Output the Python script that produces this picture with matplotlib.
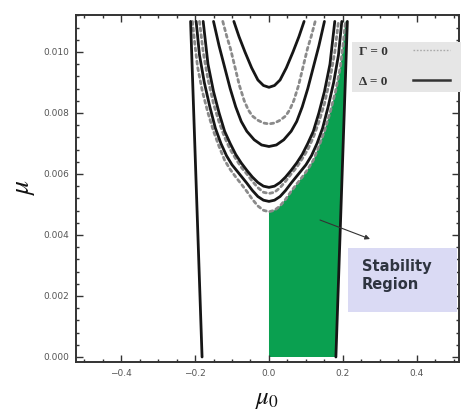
import numpy as np
import matplotlib
matplotlib.use("Agg")
import matplotlib.pyplot as plt
from matplotlib.patches import Rectangle, Polygon
from matplotlib.lines import Line2D
from matplotlib.ticker import MultipleLocator, FixedLocator, FixedFormatter

plt.rcParams['mathtext.fontset'] = 'stix'

# ---------------- data (half-curves, symmetric about mu0 = 0) ----------------
# outer straight Delta=0 boundary
line_x = [0.181, 0.212]
line_mu = [0.0, 0.011]

# Gamma = 0 curves (dashed)
d1_x = [0.0, 0.015, 0.03, 0.045, 0.06, 0.075, 0.09, 0.105, 0.12, 0.135, 0.15,
        0.165, 0.18, 0.193, 0.2, 0.207]
d1_mu = [0.00476, 0.00481, 0.00495, 0.00517, 0.00543, 0.00567, 0.0059, 0.00615,
         0.00645, 0.0069, 0.0074, 0.008, 0.0087, 0.0095, 0.0102, 0.011]

d3_x = [0.0, 0.015, 0.03, 0.045, 0.06, 0.075, 0.09, 0.105, 0.12, 0.135, 0.15,
        0.165, 0.178, 0.188]
d3_mu = [0.00536, 0.0054, 0.00555, 0.00576, 0.006, 0.00622, 0.0065, 0.0068,
         0.0072, 0.0077, 0.0083, 0.0091, 0.01, 0.011]

d6_x = [0.0, 0.015, 0.03, 0.045, 0.056, 0.067, 0.08, 0.092, 0.104, 0.114, 0.125]
d6_mu = [0.00764, 0.00767, 0.00776, 0.0079, 0.0081, 0.0084, 0.0089, 0.0095,
         0.0101, 0.0105, 0.011]

# Delta = 0 curves (solid)
s2_x = [0.0, 0.015, 0.03, 0.045, 0.06, 0.08, 0.1, 0.115, 0.13, 0.145, 0.16,
        0.175, 0.188, 0.197]
s2_mu = [0.0051, 0.00514, 0.00526, 0.00546, 0.0057, 0.006, 0.0063, 0.0066,
         0.007, 0.0075, 0.0082, 0.009, 0.0099, 0.011]

s4_x = [0.0, 0.015, 0.03, 0.045, 0.06, 0.075, 0.09, 0.105, 0.12, 0.135, 0.15,
        0.165, 0.178]
s4_mu = [0.00556, 0.0056, 0.00572, 0.0059, 0.00612, 0.00636, 0.00664, 0.007,
         0.0074, 0.008, 0.0087, 0.0096, 0.011]

s5_x = [0.0, 0.02, 0.04, 0.06, 0.075, 0.09, 0.105, 0.12, 0.135, 0.15]
s5_mu = [0.0069, 0.00695, 0.00712, 0.0074, 0.00772, 0.0082, 0.0088, 0.0095,
         0.0102, 0.011]

s7_x = [0.0, 0.015, 0.03, 0.047, 0.065, 0.081, 0.095]
s7_mu = [0.00884, 0.0089, 0.00908, 0.00948, 0.01, 0.0105, 0.011]

x_ticks = [-0.4, -0.2, 0.0, 0.2, 0.4]
x_ticklabels = ["\u22120.4", "\u22120.2", "0.0", "0.2", "0.4"]
y_ticks = [0.0, 0.002, 0.004, 0.006, 0.008, 0.010]
y_ticklabels = ["0.000", "0.002", "0.004", "0.006", "0.008", "0.010"]

legend_labels = ["\u0393 = 0", "\u0394 = 0"]
region_label = "Stability\nRegion"

# ---------------- figure ----------------
W, H = 461, 412
fig = plt.figure(figsize=(W / 100, H / 100), dpi=100)
ax = fig.add_axes([76 / W, 1 - 362 / H, (459 - 76) / W, (362 - 15) / H])
ax.set_xlim(-0.522, 0.514)
ax.set_ylim(-0.000164, 0.01121)


def mirror(hx, hm):
    hx = np.asarray(hx)
    hm = np.asarray(hm)
    return np.concatenate([-hx[::-1], hx[1:]]), np.concatenate([hm[::-1], hm[1:]])


# green stability region
gx = [0.0, line_x[0], line_x[1]] + list(d1_x[::-1]) + [0.0]
gm = [0.0, line_mu[0], line_mu[1]] + list(d1_mu[::-1]) + [0.0]
ax.add_patch(Polygon(np.column_stack([gx, gm]), closed=True,
                     facecolor='#0aa050', edgecolor='none', zorder=1))

solid_kw = dict(color='#161616', lw=2.0, solid_capstyle='round',
                solid_joinstyle='round', zorder=3)
dash_kw = dict(color='#8a8a8a', lw=2.0, linestyle=(0, (1.1, 1.3)),
               dash_capstyle='round', zorder=2)

# straight outer lines
ax.plot(line_x, line_mu, **solid_kw)
ax.plot([-v for v in line_x], line_mu, **solid_kw)

for hx, hm in [(d1_x, d1_mu), (d3_x, d3_mu), (d6_x, d6_mu)]:
    xx, mm = mirror(hx, hm)
    ax.plot(xx, mm, **dash_kw)
for hx, hm in [(s2_x, s2_mu), (s4_x, s4_mu), (s5_x, s5_mu), (s7_x, s7_mu)]:
    xx, mm = mirror(hx, hm)
    ax.plot(xx, mm, **solid_kw)

# ticks / frame
ax.xaxis.set_major_locator(FixedLocator(x_ticks))
ax.xaxis.set_major_formatter(FixedFormatter(x_ticklabels))
ax.xaxis.set_minor_locator(MultipleLocator(0.05))
ax.yaxis.set_major_locator(FixedLocator(y_ticks))
ax.yaxis.set_major_formatter(FixedFormatter(y_ticklabels))
ax.yaxis.set_minor_locator(MultipleLocator(0.0004))
ax.tick_params(which='both', direction='in', top=True, right=True,
               color='#333333', width=1.0)
ax.tick_params(which='major', length=5, labelsize=6.5, labelcolor='#555555', pad=5)
ax.tick_params(which='minor', length=2.5)
for sp in ax.spines.values():
    sp.set_linewidth(1.4)
    sp.set_color('#333333')

# axis labels
fig.text(23 / W, 1 - 187 / H, r'$\mu$', fontsize=20, rotation=90,
         ha='center', va='center', color='#111111')
fig.text(267 / W, 1 - 399 / H, r'$\mu_0$', fontsize=18,
         ha='center', va='center', color='#111111')

# legend box
fig.patches.append(Rectangle((352 / W, 1 - 92 / H), (461 - 352) / W, (92 - 42) / H,
                             transform=fig.transFigure, facecolor='#e6e6e6',
                             edgecolor='none', zorder=4))
fig.text(359 / W, 1 - 52 / H, legend_labels[0], fontsize=9.5, fontweight='bold',
         family='Liberation Serif', color='#333333', va='center', ha='left', zorder=5)
fig.text(359 / W, 1 - 82 / H, legend_labels[1], fontsize=9.5, fontweight='bold',
         family='Liberation Serif', color='#333333', va='center', ha='left', zorder=5)
fig.lines.append(Line2D([413 / W, 450 / W], [1 - 50 / H, 1 - 50 / H],
                        transform=fig.transFigure, color='#aaaaaa', lw=1.0,
                        linestyle=(0, (1.2, 1.2)), zorder=5))
fig.lines.append(Line2D([413 / W, 450 / W], [1 - 80 / H, 1 - 80 / H],
                        transform=fig.transFigure, color='#333333', lw=1.8, zorder=5))

# stability region annotation
fig.patches.append(Rectangle((348 / W, 1 - 312 / H), (457 - 348) / W, (312 - 248) / H,
                             transform=fig.transFigure, facecolor='#dadaf4',
                             edgecolor='none', zorder=4))
fig.text(362 / W, 1 - 276 / H, region_label, fontsize=10.5, fontweight='bold',
         color='#2e3440', va='center', ha='left', linespacing=1.25, zorder=5)
ax.annotate('', xy=(370 / W, 1 - 239 / H), xytext=(320 / W, 1 - 220 / H),
            xycoords='figure fraction', textcoords='figure fraction',
            arrowprops=dict(arrowstyle='-|>', color='#333333', lw=0.8,
                            mutation_scale=7, shrinkA=0, shrinkB=0))

fig.savefig('out.png', dpi=100)
